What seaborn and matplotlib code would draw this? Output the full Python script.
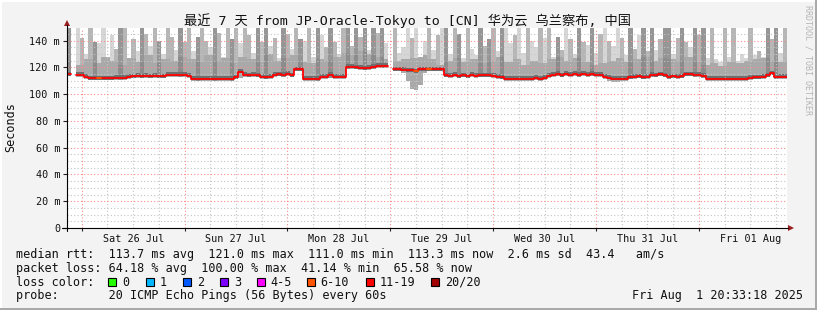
import numpy as np
import pandas as pd
import matplotlib
matplotlib.use("Agg")
import matplotlib.pyplot as plt
import seaborn as sns
from matplotlib.lines import Line2D
from matplotlib.patches import Rectangle, Polygon

nan = np.nan
T = 152.0  # smoke that runs above the top of the graph

# ---------------- data ----------------
# window: 7 days ending Fri 01 Aug 20:33:18, hours relative to Sat 26 Jul 00:00
window_start_h = -3.445
window_hours = 168

# hourly median RTT (ms); nan = 100 % loss
median_rtt = [
    114.8, nan, 114.5, 114.5, 113.0, 111.8, 111.8, 111.8, 111.8, 111.8,
    111.8, 112.3, 112.3, 112.3, 113.0, 113.3, 113.6, 113.2, 113.8, 113.2,
    113.5, 113.3, 113.3, 114.5, 114.5, 114.5, 114.5, 114.5, 113.5, 111.5,
    111.5, 111.5, 111.5, 111.5, 111.5, 111.5, 111.5, 111.5, 111.5, 112.5,
    116.5, 114.5, 114.0, 114.3, 114.0, 113.0, 112.5, 112.7, 114.5, 114.8,
    114.3, 115.0, 114.0, 118.5, 118.5, 111.5, 111.5, 111.5, 111.5, 113.0,
    113.0, 114.5, 113.0, 112.8, 113.0, 120.5, 120.5, 120.0, 119.5, 119.3,
    119.5, 120.3, 121.0, 121.0, 121.0, nan, 118.5, 118.5, 118.3, 117.8,
    117.8, 117.0, 118.5, 118.5, 118.5, 118.5, 118.5, 118.5, 114.0, 113.5,
    114.5, 113.2, 114.0, 113.3, 114.2, 113.5, 114.0, 114.0, 114.0, 113.5,
    113.0, 112.5, 111.5, 111.5, 111.5, 111.5, 111.5, 111.5, 111.5, 112.0,
    111.5, 112.3, 113.5, 114.5, 115.0, 114.0, 115.0, 114.5, 115.0, 114.2,
    115.0, 114.5, 115.0, 114.3, 114.5, 113.0, 112.0, 111.5, 111.5, 111.5,
    111.5, 112.5, 113.0, 113.2, 112.5, 113.0, 114.5, 114.0, 114.8, 114.0,
    113.0, 113.3, 113.0, 113.2, 114.8, 114.8, 114.5, 114.5, 113.5, 111.5,
    111.5, 111.5, 111.5, 111.5, 111.5, 111.5, 111.5, 111.5, 111.5, 112.0,
    112.5, 112.5, 113.0, 114.0, 115.5, 112.8, 113.0, 112.8,
]

# hourly fastest ping (bottom of smoke)
smoke_lo = [
    113.3, nan, 113.0, 113.0, 111.5, 110.3, 110.3, 110.3, 110.3, 110.3,
    110.3, 110.8, 110.8, 110.8, 111.5, 111.8, 112.1, 111.7, 112.3, 111.7,
    112.0, 111.8, 111.8, 113.0, 113.0, 113.0, 113.0, 113.0, 112.0, 110.0,
    110.0, 110.0, 110.0, 110.0, 110.0, 110.0, 110.0, 110.0, 110.0, 111.0,
    112.0, 113.0, 112.5, 112.8, 112.5, 111.5, 111.0, 111.2, 113.0, 113.3,
    112.8, 113.5, 112.5, 117.0, 117.0, 110.0, 110.0, 110.0, 110.0, 111.5,
    111.5, 112.0, 111.5, 111.3, 111.5, 119.0, 119.0, 118.5, 118.0, 117.8,
    118.0, 118.8, 119.5, 119.5, 119.5, nan, 117.0, 117.0, 116.0, 110.0,
    104.0, 103.0, 107.0, 116.0, 117.0, 117.0, 117.0, 117.0, 112.5, 112.0,
    113.0, 111.7, 112.5, 111.8, 112.7, 112.0, 112.5, 112.5, 112.5, 112.0,
    111.5, 111.0, 110.0, 110.0, 110.0, 110.0, 110.0, 110.0, 110.0, 110.5,
    110.0, 110.8, 112.0, 113.0, 113.5, 112.5, 113.5, 113.0, 113.5, 112.7,
    113.5, 113.0, 113.5, 112.8, 113.0, 111.0, 109.5, 109.0, 109.0, 109.5,
    110.0, 111.0, 111.5, 111.7, 111.0, 111.5, 113.0, 112.5, 113.3, 112.5,
    111.5, 111.8, 111.5, 111.7, 113.3, 113.3, 113.0, 113.0, 112.0, 110.0,
    110.0, 110.0, 110.0, 110.0, 110.0, 110.0, 110.0, 110.0, 110.0, 110.5,
    111.0, 111.0, 111.5, 112.5, 114.0, 111.3, 111.5, 111.3,
]

# hourly slowest ping (top of smoke)
smoke_hi = [
    T, nan, T, 142, 130, T, 139, 138, T, 128, 144, 134, T, T, 127, 141, 132, T,
    145, 136, T, 140, 130, T, 143, 133, T, 139,
    T, 132, 143, T, 140, 135, T, 146, 128, T, 141, T, 138, T, 144, 131, T, 139,
    T, 136, 142, 127, T, 145, 134,
    T, 141, 140, T, 128, T, 144, 135, T, 139, 130, T,
    T, 136, T, 143, T, 133, T, 146, T, 138,
    nan, T, 131, 135, T, 142, T, 128, 140, T, 133, 144, T,
    T, 130, T, 145, 127, T, 134, 129, T, 136, 141, T, 132, T,
    T, 138, 144, T, 131, T, 140, 135, T, 142,
    T, 128, 143, 133, T, 141, 130, T, 139, 137, T, 131, 145, T, 140, 136, T, 142,
    129, T, 134, 144, T, 132,
    T, 133, 141, T,
    T, 130, 142, T, 139, 135, T, 144, T, 127, T, 126, 124, T, 128, T, 125, 130,
    127, T, 129, 132, 128, T, 141, T, 131, T,
]

# 2-hourly top of the denser part of the smoke
smoke_mid_2h = [
    124, 122, 126, 123, 128, 125, 122, 127, 124, 129, 123, 126, 125, 128,
    126, 124, 129, 125, 127, 123, 128, 126, 124, 130, 125, 127, 129, 124,
    123, 126, 125, 128, 131, 129, 132, 130, 128, 126, 125, 126, 127, 129,
    126, 122, 125, 127, 124, 126, 123, 125, 128, 124, 126, 122, 125, 123,
    126, 128, 125, 127, 124, 122, 123, 125, 127, 124, 126, 128, 125, 127,
    126, 125, 128, 124, 122, 123, 121, 124, 123, 125, 126, 127, 125, 124,
]

# hourly shade of the upper smoke (0 light, 1 medium, 2 dark)
smoke_tone = [
    2, 1, 0, 1, 0, 1, 2, 0, 0, 1, 0, 1, 2, 1, 0, 1, 0, 2, 1, 0, 1, 2, 0, 1, 1, 0, 2, 1,
    1, 0, 2, 1, 1, 0, 2, 1, 0, 1, 2, 1, 0, 1, 1, 0, 2, 1, 2, 0, 1, 0, 2, 1, 0,
    1, 2, 0, 1, 0, 2, 0, 1, 2, 1, 0, 1,
    2, 1, 2, 1, 2, 0, 2, 1, 2, 0,
    0, 1, 0, 0, 0, 1, 0, 0, 0, 1, 0, 1, 0,
    2, 0, 1, 2, 0, 1, 0, 0, 2, 1, 2, 1, 0, 2,
    0, 0, 1, 0, 0, 1, 0, 0, 1, 0,
    1, 0, 2, 1, 0, 1, 0, 2, 1, 0, 2, 0, 1, 0, 1, 0, 0, 1, 0, 2, 1, 0, 2, 1,
    2, 0, 1, 2,
    2, 0, 1, 2, 1, 0, 2, 1, 2, 0, 1, 0, 0, 1, 0, 1, 0, 0, 0, 1, 0, 1, 0, 2, 1, 2, 0, 1,
]

# hours whose loss was 6-10 of 20 (orange median)
orange_hours = [7, 81, 84]

day_labels = ["Sat 26 Jul", "Sun 27 Jul", "Mon 28 Jul", "Tue 29 Jul",
              "Wed 30 Jul", "Thu 31 Jul", "Fri 01 Aug"]
y_ticks = [0, 20, 40, 60, 80, 100, 120, 140]
y_tick_labels = ["0", "20 m", "40 m", "60 m", "80 m", "100 m", "120 m", "140 m"]
loss_labels = ["0", "1", "2", "3", "4-5", "6-10", "11-19", "20/20"]
loss_colors = ["#26ff00", "#00b8ff", "#0059ff", "#7e00ff", "#ff00ff",
               "#ff5500", "#ff0000", "#a10000"]

title = "最近 7 天 from JP-Oracle-Tokyo to [CN] 华为云 乌兰察布, 中国"
stat_lines = [
    "median rtt:  113.7 ms avg  121.0 ms max  111.0 ms min  113.3 ms now  2.6 ms sd  43.4   am/s",
    "packet loss: 64.18 % avg  100.00 % max  41.14 % min  65.58 % now",
    "loss color:",
    "probe:       20 ICMP Echo Pings (56 Bytes) every 60s",
]
stamp = "Fri Aug  1 20:33:18 2025"

# ---------------- style ----------------
sns.set_theme(style="white")
plt.rcParams["font.family"] = ["DejaVu Sans Mono", "Noto Sans CJK SC"]
MONO = ["DejaVu Sans Mono", "Noto Sans CJK SC"]

W, H = 817, 310
fig = plt.figure(figsize=(W / 100, H / 100), dpi=100, facecolor="#f3f3f3")


def fx(x):
    return x / W


def fy(y):
    return 1 - y / H


ax = fig.add_axes([fx(67), fy(228), (787 - 67) / W, (228 - 28) / H])
ax.set_facecolor("white")

hours = np.arange(window_hours)
t_left = window_start_h + hours
med = np.array(median_rtt, float)
lo = np.array(smoke_lo, float)
hi = np.array(smoke_hi, float)
mid = np.repeat(np.array(smoke_mid_2h, float), 2)
tone = np.array(smoke_tone)
ok = ~np.isnan(med)

tone_colors = {0: "#d6d6d6", 1: "#b6b6b6", 2: "#969696"}
ax.bar(t_left[ok], (hi - lo)[ok], bottom=lo[ok], width=1.0, align="edge",
       color=[tone_colors[k] for k in tone[ok]], linewidth=0, antialiased=False, zorder=1)
mid_col = np.where(tone == 2, "#8c8c8c", "#a9a9a9")
ax.bar(t_left[ok], (np.minimum(mid, hi) - lo)[ok], bottom=lo[ok], width=1.0, align="edge",
       color=mid_col[ok], linewidth=0, antialiased=False, zorder=1.1)
core_lo = np.maximum(lo, med - 1.0)
ax.bar(t_left[ok], (med + 2.0 - core_lo)[ok], bottom=core_lo[ok], width=1.0, align="edge",
       color="#6e6e6e", linewidth=0, antialiased=False, zorder=1.2)

# median line, split where loss was total
rows = []
seg = 0
prev_ok = False
for i in range(window_hours):
    if ok[i]:
        if not prev_ok:
            seg += 1
        rows.append((t_left[i], med[i], seg))
        if i == window_hours - 1 or not ok[i + 1]:
            rows.append((t_left[i] + 1, med[i], seg))
    prev_ok = ok[i]
df_med = pd.DataFrame(rows, columns=["t", "rtt", "seg"])
sns.lineplot(data=df_med, x="t", y="rtt", units="seg", estimator=None, ax=ax,
             color="#ff0000", linewidth=1.3, drawstyle="steps-post", legend=False, zorder=3)

rows_o = []
for h in orange_hours:
    rows_o.append((t_left[h], med[h], h))
    rows_o.append((t_left[h] + 1, med[h], h))
df_or = pd.DataFrame(rows_o, columns=["t", "rtt", "seg"])
sns.lineplot(data=df_or, x="t", y="rtt", units="seg", estimator=None, ax=ax,
             color="#ff5500", linewidth=1.3, legend=False, zorder=3.1)

ax.set_xlim(window_start_h, window_start_h + window_hours)
ax.set_ylim(0, 149.4)
ax.set_xlabel("")
ax.set_ylabel("")
for s in ax.spines.values():
    s.set_visible(False)

ax.set_yticks(y_ticks)
ax.set_yticklabels(y_tick_labels)
ax.set_yticks([v for v in range(5, 150, 5) if v % 20], minor=True)
midnights = [24 * d for d in range(7)]
ax.set_xticks(midnights)
ax.set_xticklabels([""] * len(midnights))
six = [h for h in range(6, 165, 6) if h % 24]
ax.set_xticks(six, minor=True)
ax.set_xticklabels([day_labels[(h - 12) // 24] if h % 24 == 12 else "" for h in six], minor=True)

ax.set_axisbelow(False)
ax.grid(which="major", color="#ff8a8a", linestyle=(0, (1, 2)), linewidth=0.8)
ax.grid(which="minor", color="#c4c4c4", linestyle=(0, (1, 2)), linewidth=0.8)
ax.tick_params(axis="y", which="major", length=3, width=0.8, color="#222222",
               pad=2, labelsize=7.3, labelcolor="#111111", left=True)
ax.tick_params(axis="y", which="minor", length=0)
ax.tick_params(axis="x", which="major", length=2, width=0.8, color="#222222", bottom=True)
ax.tick_params(axis="x", which="minor", length=0, pad=4.5, labelsize=7.3, labelcolor="#111111")

# axis lines with arrows
fig.add_artist(Line2D([fx(62), fx(788)], [fy(228), fy(228)], color="#000000", lw=0.8))
fig.add_artist(Line2D([fx(67), fx(67)], [fy(231), fy(25)], color="#000000", lw=0.8))
fig.add_artist(Polygon([[fx(788), fy(225)], [fx(794), fy(228)], [fx(788), fy(231)]],
                       closed=True, color="#9a1c1c", lw=0))
fig.add_artist(Polygon([[fx(64), fy(26)], [fx(67), fy(20)], [fx(70), fy(26)]],
                       closed=True, color="#9a1c1c", lw=0))

# texts
fig.text(fx(408), fy(21), title, ha="center", va="center", fontsize=9.5,
         family=MONO, color="#111111")
fig.text(fx(11), fy(127), "Seconds", rotation=90, ha="center", va="center",
         fontsize=8.5, family=MONO, color="#111111")
fig.text(fx(808), fy(60), "RRDTOOL / TOBI OETIKER", rotation=270, ha="center",
         va="center", fontsize=6, family=MONO, color="#b5b5b5")

baselines = [257.7, 271.7, 285.7, 299.5]
for line, yb in zip(stat_lines, baselines):
    fig.text(fx(16), fy(yb), line, ha="left", va="baseline", fontsize=8.5,
             family=MONO, color="#111111")
fig.text(fx(632.5), fy(baselines[3]), stamp, ha="left", va="baseline", fontsize=8.5,
         family=MONO, color="#111111")

box_x = [108.3, 145.7, 182.7, 220.0, 256.7, 306.7, 366.0, 430.7]
for bx, lab, col in zip(box_x, loss_labels, loss_colors):
    fig.add_artist(Rectangle((fx(bx), fy(285.5)), 8 / W, 8 / H, facecolor=col,
                             edgecolor="#000000", lw=0.8))
    fig.text(fx(bx + 14), fy(baselines[2]), lab, ha="left", va="baseline",
             fontsize=8.5, family=MONO, color="#111111")

# 3-D frame
fig.add_artist(Rectangle((0, 0), 1, 2 / H, facecolor="#a9a9a9", lw=0))
fig.add_artist(Rectangle((1 - 2 / W, 0), 2 / W, 1, facecolor="#a9a9a9", lw=0))
fig.add_artist(Rectangle((0, 1 - 2 / H), 1 - 2 / W, 2 / H, facecolor="#ffffff", lw=0))
fig.add_artist(Rectangle((0, 2 / H), 2 / W, 1 - 2 / H, facecolor="#ffffff", lw=0))

fig.savefig("out.png", dpi=100, facecolor=fig.get_facecolor())
